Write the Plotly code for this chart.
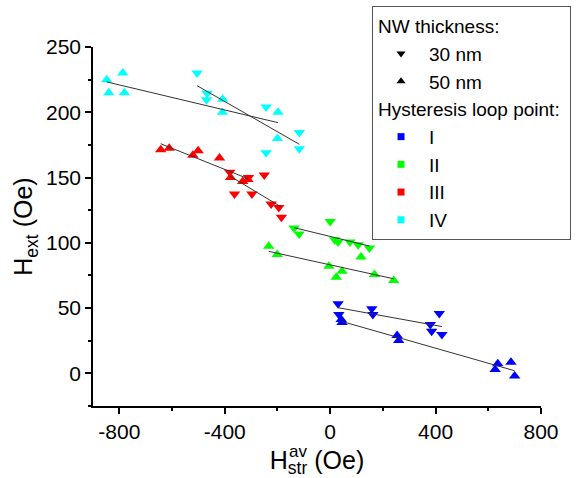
import numpy as np
import plotly.graph_objects as go

# ---------------- data ----------------
# Hysteresis loop point I (blue)
blue_30_x = [30, 33, 158, 162, 414, 380, 385, 424]
blue_30_y = [53.3, 45.1, 49.5, 45.0, 45.9, 37.5, 32.3, 29.8]
blue_50_x = [42, 45, 254, 260, 626, 636, 686, 700]
blue_50_y = [41.3, 39.0, 29.0, 25.2, 3.0, 7.4, 8.6, -2.0]
# Hysteresis loop point II (green)
green_30_x = [-137, -118, 0, 17, 30, 75, 106, 149]
green_30_y = [111.4, 106.8, 116.4, 102.4, 100.7, 100.7, 98.6, 96.0]
green_50_x = [-233, -201, -5, 45, 23, 117, 168, 241]
green_50_y = [97.3, 91.0, 82.0, 78.2, 73.6, 89.2, 75.7, 71.1]
# Hysteresis loop point III (red)
red_30_x = [-381, -310, -250, -363, -297, -224, -195, -185]
red_30_y = [154.0, 150.0, 152.0, 137.4, 137.4, 129.7, 127.0, 119.5]
red_50_x = [-643, -611, -521, -501, -420, -378, -332, -312]
red_50_y = [171.3, 172.5, 167.0, 170.5, 165.0, 150.0, 147.0, 148.5]
# Hysteresis loop point IV (cyan)
cyan_30_x = [-505, -467, -469, -243, -117, -243, -117]
cyan_30_y = [230.0, 214.6, 209.5, 204.0, 184.5, 169.0, 172.0]
cyan_50_x = [-848, -787, -840, -781, -408, -409, -198, -200]
cyan_50_y = [225.0, 230.0, 215.0, 215.0, 210.0, 200.0, 200.0, 180.0]

loop_names = ["I", "II", "III", "IV"]
loop_colors = ["#0000FF", "#00FF00", "#FF0000", "#00FFFF"]
thick_names = ["30 nm", "50 nm"]
thick_symbols = ["triangle-down", "triangle-up"]

x_tickvals = [-800, -400, 0, 400, 800]
x_ticktext = ["-800", "-400", "0", "400", "800"]
y_tickvals = [0, 50, 100, 150, 200, 250]
y_ticktext = ["0", "50", "100", "150", "200", "250"]

series = [
    (blue_30_x, blue_30_y, 0, 0), (blue_50_x, blue_50_y, 0, 1),
    (green_30_x, green_30_y, 1, 0), (green_50_x, green_50_y, 1, 1),
    (red_30_x, red_30_y, 2, 0), (red_50_x, red_50_y, 2, 1),
    (cyan_30_x, cyan_30_y, 3, 0), (cyan_50_x, cyan_50_y, 3, 1),
]

FONT = "Liberation Sans, Arial, sans-serif"
fig = go.Figure()

for xs, ys, ci, ti in series:
    fig.add_trace(go.Scatter(
        x=xs, y=ys, mode="markers", showlegend=False,
        marker=dict(symbol=thick_symbols[ti], size=10, color=loop_colors[ci],
                    line=dict(width=0)),
        hoverinfo="x+y"))

# linear fits drawn over the markers
for xs, ys, ci, ti in series:
    xa = np.array(xs, dtype=float)
    ya = np.array(ys, dtype=float)
    k, b = np.polyfit(xa, ya, 1)
    xl = np.array([xa.min(), xa.max()])
    fig.add_trace(go.Scatter(
        x=xl, y=k * xl + b, mode="lines", showlegend=False,
        line=dict(color="#333333", width=1), hoverinfo="skip"))

# legend entries
for i, (nm, sym) in enumerate(zip(thick_names, thick_symbols)):
    fig.add_trace(go.Scatter(
        x=[None], y=[None], mode="markers", name=nm,
        legendgroup="thick", legendgrouptitle_text="NW thickness:",
        marker=dict(symbol=sym, size=8, color="black")))
for nm, col in zip(loop_names, loop_colors):
    fig.add_trace(go.Scatter(
        x=[None], y=[None], mode="markers", name=nm,
        legendgroup="loop", legendgrouptitle_text="Hysteresis loop point:",
        marker=dict(symbol="square", size=7, color=col)))

axis_common = dict(
    showgrid=False, zeroline=False, showline=True, linecolor="black",
    linewidth=1.5, ticks="outside", ticklen=6, tickwidth=1.5,
    tickcolor="black", tickfont=dict(family=FONT, size=21, color="black"),
)

fig.update_layout(
    width=587, height=478,
    margin=dict(l=93, r=46, t=47, b=72, autoexpand=False),
    paper_bgcolor="white", plot_bgcolor="white",
    font=dict(family=FONT, size=21, color="black"),
    xaxis=dict(range=[-900, 800], tickmode="array", tickvals=x_tickvals,
               ticktext=x_ticktext,
               minor=dict(tickmode="linear", tick0=0, dtick=200,
                          ticks="outside", ticklen=3, tickwidth=1.5,
                          tickcolor="black"),
               title=dict(text="H<sub>str</sub> (Oe)",
                          font=dict(family=FONT, size=25), standoff=10),
               **axis_common),
    yaxis=dict(range=[-25, 250], tickmode="array", tickvals=y_tickvals,
               ticktext=y_ticktext,
               minor=dict(tickmode="linear", tick0=0, dtick=25,
                          ticks="outside", ticklen=3, tickwidth=1.5,
                          tickcolor="black"),
               title=dict(text="H<sub>ext</sub> (Oe)",
                          font=dict(family=FONT, size=25), standoff=6),
               **axis_common),
    legend=dict(x=0.6228, y=1.1142, xanchor="left", yanchor="top",
                bgcolor="white", bordercolor="#555555", borderwidth=1,
                traceorder="grouped", tracegroupgap=0, itemwidth=46,
                maxheight=470, entrywidth=186,
                font=dict(family=FONT, size=19, color="black"),
                grouptitlefont=dict(family=FONT, size=19, color="black")),
    annotations=[dict(text="av", xref="paper", yref="paper",
                      x=0.4576, y=-0.128, xanchor="center", yanchor="middle",
                      showarrow=False,
                      font=dict(family=FONT, size=17, color="black"))],
)

fig.write_html("out.html")
